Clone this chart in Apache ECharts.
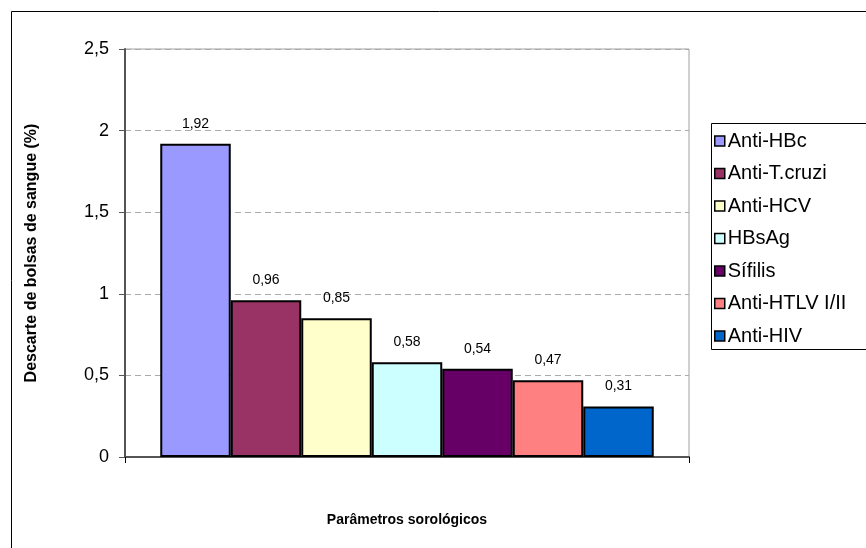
<!DOCTYPE html>
<html>
<head>
<meta charset="utf-8">
<script src="https://cdn.jsdelivr.net/npm/echarts@6/dist/echarts.min.js"></script>
<style>
  html, body { margin: 0; padding: 0; background: #fff; }
  #chart { width: 866px; height: 548px; }
</style>
</head>
<body>
<div id="chart"></div>
<script>
// Serological parameters and share of discarded blood bags (%)
const parametros = ['Anti-HBc', 'Anti-T.cruzi', 'Anti-HCV', 'HBsAg', 'Sífilis', 'Anti-HTLV I/II', 'Anti-HIV'];
const descarte = [1.92, 0.96, 0.85, 0.58, 0.54, 0.47, 0.31];
const cores = ['#9999FF', '#993366', '#FFFFCC', '#CCFFFF', '#660066', '#FF8080', '#0066CC'];
const yTicks = [0, 0.5, 1, 1.5, 2, 2.5];

const FONT = 'Liberation Sans, Arial, sans-serif';
const virgula = v => String(v).replace('.', ',');

const chart = echarts.init(document.getElementById('chart'), null, { renderer: 'canvas' });

const series = parametros.map((nome, i) => ({
  name: nome,
  type: 'bar',
  data: [descarte[i]],
  barGap: '0%',
  barCategoryGap: '12.5%',
  itemStyle: { color: cores[i], borderColor: '#000', borderWidth: 2 },
  label: {
    show: true,
    position: 'top',
    distance: 13,
    fontFamily: FONT,
    fontSize: 14,
    color: '#000',
    formatter: p => virgula(p.value.toFixed(2))
  }
}));

chart.setOption({
  animation: false,
  backgroundColor: '#fff',
  graphic: [
    {
      // outer chart frame
      type: 'rect',
      shape: { x: 11.5, y: 11.5, width: 900, height: 600 },
      style: { fill: 'none', stroke: '#000', lineWidth: 1 },
      silent: true
    },
    {
      // legend frame
      type: 'rect',
      shape: { x: 711.5, y: 123.5, width: 200, height: 226 },
      style: { fill: 'none', stroke: '#000', lineWidth: 1 },
      silent: true
    }
  ],
  grid: {
    left: 125, right: 177, top: 49, bottom: 91,
    show: true, borderColor: '#a0a0a0', borderWidth: 1, backgroundColor: 'transparent'
  },
  legend: {
    orient: 'vertical',
    left: 711, top: 125,
    padding: [6, 3, 6, 3],
    itemGap: 12.5,
    itemWidth: 10, itemHeight: 10,
    icon: 'rect',
    textStyle: { fontFamily: FONT, fontSize: 20, lineHeight: 20, color: '#000', padding: [0, 0, 0, -2] },
    itemStyle: { borderColor: '#000', borderWidth: 1.5 },
    data: parametros
  },
  xAxis: {
    type: 'category',
    data: [''],
    name: 'Parâmetros sorológicos',
    nameLocation: 'middle',
    nameGap: 56,
    nameTextStyle: { fontFamily: FONT, fontSize: 14, fontWeight: 'bold', color: '#000' },
    axisLine: { lineStyle: { color: '#555', width: 2 } },
    axisTick: { show: true, length: 6, lineStyle: { color: '#000' } },
    axisLabel: { show: false }
  },
  yAxis: {
    type: 'value',
    min: yTicks[0], max: yTicks[yTicks.length - 1], interval: 0.5,
    name: 'Descarte de bolsas de sangue (%)',
    nameLocation: 'middle',
    nameGap: 85,
    nameTextStyle: { fontFamily: FONT, fontSize: 16, fontWeight: 'bold', color: '#000' },
    axisLine: { show: true, lineStyle: { color: '#555', width: 2 } },
    axisTick: { show: true, length: 6, lineStyle: { color: '#555' } },
    axisLabel: { fontFamily: FONT, fontSize: 18, color: '#000', margin: 16, formatter: v => virgula(v) },
    splitLine: { lineStyle: { color: '#aaa', type: [6, 4], width: 1 } }
  },
  series: series
});
</script>
</body>
</html>
